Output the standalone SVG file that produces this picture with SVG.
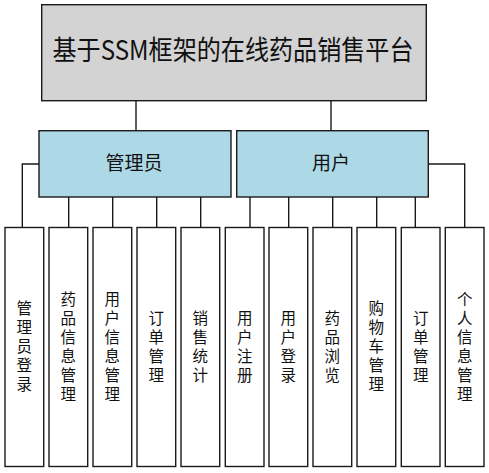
<svg xmlns="http://www.w3.org/2000/svg" width="489" height="473" viewBox="0 0 489 473">
<style>
.box{stroke:#1a1a1a;stroke-width:1.4}
.root{fill:#d3d3d3}
.mid{fill:#add8e6}
.leaf{fill:#ffffff}
.conn{fill:none;stroke:#1a1a1a;stroke-width:1.4}
text{font-family:"Noto Sans CJK SC","Noto Sans",sans-serif;fill:#111;text-anchor:middle}
.t1{font-size:27px}
.t2{font-size:19px}
.t3{font-size:15.5px}
</style>
<rect width="489" height="473" fill="#ffffff"/>
<g id="connectors">
<path class="conn" d="M136 101 V131 M331 101 V131"/>
<path class="conn" d="M39 164 H22.3 V227.5 M428 164 H464.7 V227.5"/>
<path class="conn" d="M68.7 197 V227.5 M112.7 197 V227.5 M156.7 197 V227.5 M200.7 197 V227.5"/>
<path class="conn" d="M250 197 V227.5 M288.7 197 V227.5 M332.7 197 V227.5 M376.7 197 V227.5 M415.3 197 V227.5"/>
</g>
<g id="root">
<rect class="box root" x="41.7" y="4.7" width="384.6" height="96"/>
<text class="t1" x="233" y="60" textLength="361" lengthAdjust="spacingAndGlyphs">基于SSM框架的在线药品销售平台</text>
</g>
<g id="admin">
<rect class="box mid" x="39" y="130.7" width="192" height="66.3"/>
<text class="t2" x="134" y="170">管理员</text>
</g>
<g id="user">
<rect class="box mid" x="236.7" y="130.7" width="191.6" height="66.3"/>
<text class="t2" x="331" y="170">用户</text>
</g>
<g id="leaf1">
<rect class="box leaf" x="5" y="227.5" width="38.7" height="239"/>
<text class="t3"><tspan x="24.3" y="314">管</tspan><tspan x="24.3" y="333">理</tspan><tspan x="24.3" y="352">员</tspan><tspan x="24.3" y="371">登</tspan><tspan x="24.3" y="390">录</tspan></text>
</g>
<g id="leaf2">
<rect class="box leaf" x="49" y="227.5" width="38.7" height="239"/>
<text class="t3"><tspan x="68.3" y="304.5">药</tspan><tspan x="68.3" y="323.5">品</tspan><tspan x="68.3" y="342.5">信</tspan><tspan x="68.3" y="361.5">息</tspan><tspan x="68.3" y="380.5">管</tspan><tspan x="68.3" y="399.5">理</tspan></text>
</g>
<g id="leaf3">
<rect class="box leaf" x="93" y="227.5" width="38.7" height="239"/>
<text class="t3"><tspan x="112.3" y="304.5">用</tspan><tspan x="112.3" y="323.5">户</tspan><tspan x="112.3" y="342.5">信</tspan><tspan x="112.3" y="361.5">息</tspan><tspan x="112.3" y="380.5">管</tspan><tspan x="112.3" y="399.5">理</tspan></text>
</g>
<g id="leaf4">
<rect class="box leaf" x="137" y="227.5" width="38.7" height="239"/>
<text class="t3"><tspan x="156.3" y="323.5">订</tspan><tspan x="156.3" y="342.5">单</tspan><tspan x="156.3" y="361.5">管</tspan><tspan x="156.3" y="380.5">理</tspan></text>
</g>
<g id="leaf5">
<rect class="box leaf" x="181" y="227.5" width="38.7" height="239"/>
<text class="t3"><tspan x="200.3" y="323.5">销</tspan><tspan x="200.3" y="342.5">售</tspan><tspan x="200.3" y="361.5">统</tspan><tspan x="200.3" y="380.5">计</tspan></text>
</g>
<g id="leaf6">
<rect class="box leaf" x="225.3" y="227.5" width="38.7" height="239"/>
<text class="t3"><tspan x="244.7" y="323.5">用</tspan><tspan x="244.7" y="342.5">户</tspan><tspan x="244.7" y="361.5">注</tspan><tspan x="244.7" y="380.5">册</tspan></text>
</g>
<g id="leaf7">
<rect class="box leaf" x="269" y="227.5" width="38.7" height="239"/>
<text class="t3"><tspan x="288.3" y="323.5">用</tspan><tspan x="288.3" y="342.5">户</tspan><tspan x="288.3" y="361.5">登</tspan><tspan x="288.3" y="380.5">录</tspan></text>
</g>
<g id="leaf8">
<rect class="box leaf" x="313" y="227.5" width="38.7" height="239"/>
<text class="t3"><tspan x="332.3" y="323.5">药</tspan><tspan x="332.3" y="342.5">品</tspan><tspan x="332.3" y="361.5">浏</tspan><tspan x="332.3" y="380.5">览</tspan></text>
</g>
<g id="leaf9">
<rect class="box leaf" x="357" y="227.5" width="38.7" height="239"/>
<text class="t3"><tspan x="376.3" y="314">购</tspan><tspan x="376.3" y="333">物</tspan><tspan x="376.3" y="352">车</tspan><tspan x="376.3" y="371">管</tspan><tspan x="376.3" y="390">理</tspan></text>
</g>
<g id="leaf10">
<rect class="box leaf" x="401.3" y="227.5" width="38.7" height="239"/>
<text class="t3"><tspan x="420.7" y="323.5">订</tspan><tspan x="420.7" y="342.5">单</tspan><tspan x="420.7" y="361.5">管</tspan><tspan x="420.7" y="380.5">理</tspan></text>
</g>
<g id="leaf11">
<rect class="box leaf" x="445.3" y="227.5" width="38.7" height="239"/>
<text class="t3"><tspan x="464.7" y="304.5">个</tspan><tspan x="464.7" y="323.5">人</tspan><tspan x="464.7" y="342.5">信</tspan><tspan x="464.7" y="361.5">息</tspan><tspan x="464.7" y="380.5">管</tspan><tspan x="464.7" y="399.5">理</tspan></text>
</g>
</svg>
